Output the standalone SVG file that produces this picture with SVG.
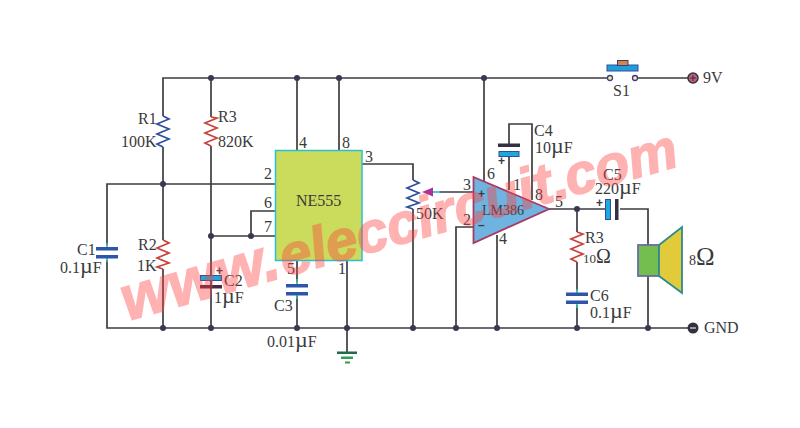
<svg xmlns="http://www.w3.org/2000/svg" width="800" height="428" viewBox="0 0 800 428">
<style>
text{font-family:"Liberation Serif","Times New Roman",serif;font-size:16px;fill:#3a3a3c}
.u{font-size:22px}
.w{fill:none;stroke:#3d3d42;stroke-width:1.7}
.t{fill:none;stroke:#2cbfa0;stroke-width:1.7}
.j{fill:#3b3652;stroke:none}
.rb{fill:none;stroke:#2f4f9e;stroke-width:1.7}
.rr{fill:none;stroke:#c8413a;stroke-width:1.7}
.cb{fill:#2f55a8;stroke:none}
.cd{fill:#33303f;stroke:none}
.cc{fill:#1fa9d8;stroke:#2f4f9e;stroke-width:1}
text.sg{font-weight:bold;font-family:"Liberation Sans",Arial,sans-serif;font-size:12px;fill:#3a3a3c}
text.wm{font-family:"Liberation Sans",Arial,sans-serif;font-weight:bold;font-style:italic;font-size:60px;fill:#ff4040;stroke:#ff4040;stroke-width:1.5;opacity:.4}
</style>
<rect width="800" height="428" fill="#fff"/>
<g id="connectors">
<path class="w" d="M163 116V78H607M635 78H693"/>
<path class="w" d="M211 78V117M211 146V328"/>
<path class="w" d="M297 78V150M339 78V150"/>
<path class="w" d="M163 147V240M163 269V328"/>
<path class="w" d="M107 245V184H275M107 260V328H693"/>
<path class="w" d="M211 236H275M251 236V211H275"/>
<path class="w" d="M297 260V282M297 296V328"/>
<path class="w" d="M347 260V352"/>
<path class="w" d="M362 164H413V180M413 209V328"/>
<path class="w" d="M439 192H473"/>
<path class="w" d="M473 227H456V328M497 235V328"/>
<path class="w" d="M484 78V185"/>
<path class="w" d="M509 145V124H532V200M509 154V190"/>
<path class="w" d="M549 209H606M620 209H648V245M648 276V328"/>
<path class="w" d="M577 209V232M577 262V291M577 305V328"/>
<path class="t" d="M107 243V247M107 257V262M297 279V284M297 294V299M577 289V293M577 303V308"/>
<circle class="j" cx="211" cy="78" r="3"/><circle class="j" cx="297" cy="78" r="3"/><circle class="j" cx="339" cy="78" r="3"/><circle class="j" cx="484" cy="78" r="3"/>
<circle class="j" cx="163" cy="184" r="3"/><circle class="j" cx="211" cy="236" r="3"/><circle class="j" cx="251" cy="236" r="3"/>
<circle class="j" cx="163" cy="328" r="3"/><circle class="j" cx="211" cy="328" r="3"/><circle class="j" cx="297" cy="328" r="3"/><circle class="j" cx="347" cy="328" r="3"/><circle class="j" cx="413" cy="328" r="3"/><circle class="j" cx="456" cy="328" r="3"/><circle class="j" cx="497" cy="328" r="3"/><circle class="j" cx="577" cy="328" r="3"/><circle class="j" cx="648" cy="328" r="3"/><circle class="j" cx="577" cy="209" r="3"/>
</g>
<g id="R1"><path class="rb" d="M163 116L169 119L157 124L169 129L157 134L169 139L157 144L163 147"/><text x="138" y="124">R1</text><text x="121" y="147">100K</text></g>
<g id="R3a"><path class="rr" d="M211 117L217 118L205 123L217 128L205 133L217 138L205 143L211 146"/><text x="218" y="122">R3</text><text x="218" y="147">820K</text></g>
<g id="R2"><path class="rr" d="M163 240L169 243L157 248L169 253L157 258L169 263L157 267L163 269"/><text x="138" y="250">R2</text><text x="137" y="271">1K</text></g>
<g id="C1"><rect class="cb" x="96" y="247" width="22" height="3.500"/><rect class="cb" x="96" y="255" width="22" height="3.500"/><text x="77" y="255">C1</text><text x="60" y="273">0.1<tspan class="u">µ</tspan>F</text></g>
<g id="C2"><rect class="cc" x="200.500" y="275.500" width="21" height="5"/><rect x="200" y="285" width="22" height="3.500" fill="#4a2a40"/><text x="216" y="275" class="sg">+</text><text x="224" y="286">C2</text><text x="214" y="303">1<tspan class="u">µ</tspan>F</text></g>
<g id="C3"><rect class="cb" x="286" y="284" width="22" height="3.500"/><rect class="cb" x="286" y="292" width="22" height="3.500"/><text x="274" y="311">C3</text><text x="267" y="347">0.01<tspan class="u">µ</tspan>F</text></g>
<g id="NE555"><rect x="275.500" y="150.500" width="86.500" height="110" fill="#cbdc5c" stroke="#2cbfd0" stroke-width="1.500"/><text x="296" y="206">NE555</text><text x="299" y="148">4</text><text x="342" y="148">8</text><text x="365" y="162">3</text><text x="264" y="179">2</text><text x="264" y="208">6</text><text x="264" y="232">7</text><text x="287" y="274">5</text><text x="338" y="274">1</text></g>
<g id="GND-symbol"><rect x="337" y="351.500" width="20" height="2.500" fill="#1f6b45"/><rect x="341" y="356.500" width="12" height="2.500" fill="#2f9e55"/><rect x="345" y="361.500" width="5" height="2" fill="#2f9e55"/></g>
<g id="VR"><path class="rb" d="M413 180L419 183L407 188L419 193L407 198L419 203L407 207L413 209"/><path d="M422 192L433 187.500V196.500Z" fill="#a8349a"/><path d="M433 192H440" stroke="#2cbfd0" stroke-width="1.700"/><text x="416" y="219">50K</text></g>
<g id="LM386"><path d="M473.500 177L549 209L473.500 243Z" fill="#6fb3e0" stroke="#a83a62" stroke-width="1.800"/><text x="482" y="215" style="font-size:14px">LM386</text><text x="478" y="198" class="sg">+</text><text x="478" y="229" class="sg">–</text><text x="463" y="190">3</text><text x="463" y="225">2</text><text x="487" y="179">6</text><text x="513" y="190">1</text><text x="535" y="200">8</text><text x="499" y="244">4</text><text x="555" y="207">5</text></g>
<g id="C4"><rect class="cd" x="498" y="143.500" width="22" height="3.500"/><rect class="cc" x="499" y="151.500" width="20" height="5"/><text x="498" y="165" class="sg">+</text><text x="534" y="136">C4</text><text x="535" y="153">10<tspan class="u">µ</tspan>F</text></g>
<g id="C5"><rect x="605.500" y="199.500" width="5" height="20" fill="#1fa9d8" stroke="#2f4f9e"/><rect class="cd" x="615" y="199" width="3.500" height="21"/><text x="596" y="207" class="sg">+</text><text x="603" y="180">C5</text><text x="595" y="194">220<tspan class="u">µ</tspan>F</text></g>
<g id="R3b"><path class="rr" d="M577 232L583 234L571 239L583 244L571 249L583 254L571 259L577 262"/><text x="585" y="243">R3</text><text x="583" y="263" style="font-size:13px">10<tspan style="font-size:20px">Ω</tspan></text></g>
<g id="C6"><rect class="cb" x="566" y="292.500" width="22" height="3.500"/><rect class="cb" x="566" y="300.500" width="22" height="3.500"/><text x="590" y="301">C6</text><text x="590" y="318">0.1<tspan class="u">µ</tspan>F</text></g>
<g id="speaker"><rect x="638" y="245" width="21" height="31" fill="#74bd4f" stroke="#6a6aa8" stroke-width="1.800"/><path d="M659 245L682 227V293L659 276Z" fill="#e2cb3a" stroke="#2a8a94" stroke-width="1.800"/><text x="689" y="265" style="font-size:14px">8<tspan style="font-size:25px">Ω</tspan></text></g>
<g id="S1"><rect x="607" y="65" width="31" height="6" fill="#1f9ed8" stroke="#2f4f9e"/><rect x="617.500" y="60.500" width="10.500" height="5" fill="#d9853a" stroke="#3b3a8a"/><circle cx="610" cy="78" r="2.500" fill="#f5eea0" stroke="#3b3a8a" stroke-width="1.300"/><circle cx="635" cy="78" r="2.500" fill="#f5eea0" stroke="#3b3a8a" stroke-width="1.300"/><text x="613" y="96">S1</text></g>
<g id="V9"><circle cx="693" cy="78" r="5" fill="#c0607a" stroke="#33303f" stroke-width="1.500"/><path d="M690 78H696M693 75V81" stroke="#33303f"/><text x="703" y="83">9V</text></g>
<g id="GND"><circle cx="693" cy="328" r="5.500" fill="#33303f"/><path d="M690 328H696" stroke="#fff"/><text x="704" y="333">GND</text></g>
<text class="wm" transform="translate(131 320) rotate(-15.700)"><tspan x="-4" style="font-size:63px">www.</tspan><tspan x="160" style="font-size:57px">eleccircuit.</tspan><tspan x="456" style="font-size:56px">com</tspan></text>
</svg>
